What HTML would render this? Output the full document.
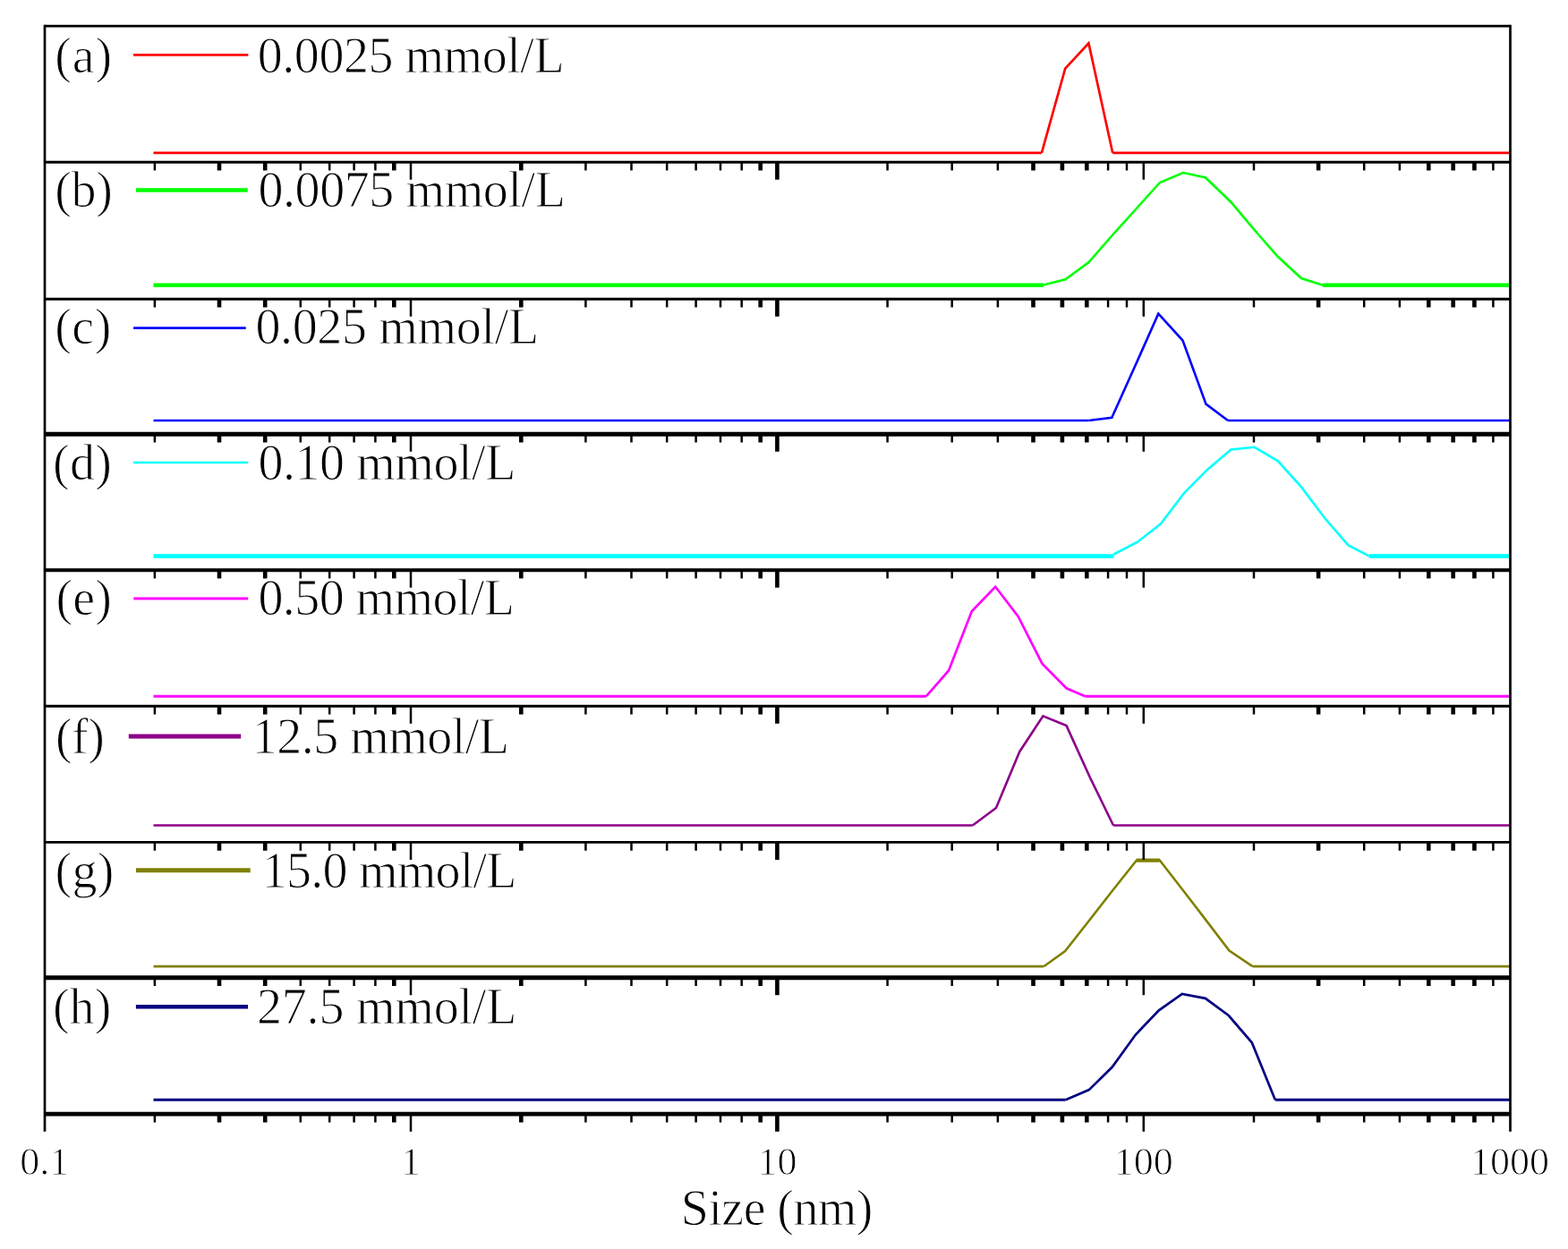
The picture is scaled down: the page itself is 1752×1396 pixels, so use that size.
<!DOCTYPE html>
<html><head><meta charset="utf-8"><style>html,body{margin:0;padding:0;background:#fff;}svg{display:block;}</style></head>
<body>
<svg width="1752" height="1396" viewBox="0 0 1752 1396">
<rect width="1752" height="1396" fill="#fff"/>
<line x1="171.5" y1="170.8" x2="1163.9" y2="170.8" stroke="#ff0000" stroke-width="2.8"/>
<line x1="1243.2" y1="170.8" x2="1687.5" y2="170.8" stroke="#ff0000" stroke-width="2.8"/>
<polyline points="1163.9,170.8 1190.2,76.6 1216.4,48.3 1243.2,170.8" fill="none" stroke="#ff0000" stroke-width="2.7" stroke-linejoin="miter" stroke-miterlimit="3"/>
<line x1="149" y1="61.3" x2="277.4" y2="61.3" stroke="#ff0000" stroke-width="2.8"/>
<line x1="171.5" y1="318.7" x2="1166" y2="318.7" stroke="#00ff00" stroke-width="4.6"/>
<line x1="1478" y1="318.7" x2="1687.5" y2="318.7" stroke="#00ff00" stroke-width="4.6"/>
<polyline points="1166.0,318.5 1190.4,312.2 1216.6,293.0 1242.8,263.0 1269.0,234.0 1296.0,204.0 1322.0,193.0 1347.0,198.5 1375.5,226.0 1401.6,257.0 1428.0,287.0 1454.0,311.0 1478.0,318.7" fill="none" stroke="#00ff00" stroke-width="2.6" stroke-linejoin="miter" stroke-miterlimit="3"/>
<line x1="152" y1="212.5" x2="276.7" y2="212.5" stroke="#00ff00" stroke-width="4.6"/>
<line x1="171.5" y1="470.0" x2="1216.5" y2="470.0" stroke="#0000ff" stroke-width="2.7"/>
<line x1="1372" y1="470.0" x2="1687.5" y2="470.0" stroke="#0000ff" stroke-width="2.7"/>
<polyline points="1216.5,470.0 1242.3,466.8 1268.3,409.0 1294.3,350.7 1321.5,380.5 1347.5,451.6 1372.0,470.0" fill="none" stroke="#0000ff" stroke-width="2.6" stroke-linejoin="miter" stroke-miterlimit="3"/>
<line x1="149.1" y1="366.7" x2="274.7" y2="366.7" stroke="#0000ff" stroke-width="2.8"/>
<line x1="171.5" y1="621.6" x2="1244.5" y2="621.6" stroke="#00ffff" stroke-width="4.6"/>
<line x1="1530" y1="621.6" x2="1687.5" y2="621.6" stroke="#00ffff" stroke-width="4.6"/>
<polyline points="1244.5,619.5 1270.7,606.0 1296.9,585.5 1323.1,551.0 1349.3,524.7 1375.5,502.4 1401.7,499.8 1427.9,515.3 1454.1,544.4 1480.3,579.3 1506.5,609.4 1530.0,621.6" fill="none" stroke="#00ffff" stroke-width="2.6" stroke-linejoin="miter" stroke-miterlimit="3"/>
<line x1="148.9" y1="517.0" x2="277.2" y2="517.0" stroke="#00ffff" stroke-width="2.6"/>
<line x1="171.5" y1="778.2" x2="1035" y2="778.2" stroke="#ff00ff" stroke-width="2.9"/>
<line x1="1212.5" y1="778.2" x2="1687.5" y2="778.2" stroke="#ff00ff" stroke-width="2.9"/>
<polyline points="1035.0,778.2 1060.0,749.5 1085.8,683.3 1112.2,655.7 1137.6,689.0 1164.4,741.7 1191.6,769.3 1212.5,778.2" fill="none" stroke="#ff00ff" stroke-width="2.7" stroke-linejoin="miter" stroke-miterlimit="3"/>
<line x1="149.3" y1="669.0" x2="277.2" y2="669.0" stroke="#ff00ff" stroke-width="2.9"/>
<line x1="171.5" y1="922.5" x2="1086.8" y2="922.5" stroke="#8c0088" stroke-width="2.5"/>
<line x1="1244" y1="922.5" x2="1687.5" y2="922.5" stroke="#8c0088" stroke-width="2.5"/>
<polyline points="1086.8,922.5 1113.0,903.0 1139.2,840.2 1165.4,800.3 1191.6,811.1 1217.8,868.8 1244.0,922.5" fill="none" stroke="#8c0088" stroke-width="2.6" stroke-linejoin="miter" stroke-miterlimit="3"/>
<line x1="143.8" y1="823.0" x2="269.2" y2="823.0" stroke="#8c0088" stroke-width="5.0"/>
<line x1="171.5" y1="1080.2" x2="1166.2" y2="1080.2" stroke="#808000" stroke-width="2.7"/>
<line x1="1399.6" y1="1080.2" x2="1687.5" y2="1080.2" stroke="#808000" stroke-width="2.7"/>
<polyline points="1166.2,1080.2 1190.1,1063.0 1216.5,1029.5 1243.0,995.5 1270.2,961.3 1295.6,961.3 1322.0,995.2 1348.0,1029.1 1373.5,1062.5 1399.6,1080.2" fill="none" stroke="#808000" stroke-width="2.6" stroke-linejoin="miter" stroke-miterlimit="3"/>
<line x1="152" y1="972.8" x2="279.7" y2="972.8" stroke="#808000" stroke-width="5.0"/>
<line x1="171.5" y1="1229.2" x2="1190.8" y2="1229.2" stroke="#000080" stroke-width="3.0"/>
<line x1="1424.8" y1="1229.2" x2="1687.5" y2="1229.2" stroke="#000080" stroke-width="3.0"/>
<polyline points="1190.8,1229.2 1216.8,1218.1 1242.8,1192.5 1268.8,1156.5 1294.8,1129.4 1320.8,1111.0 1346.8,1115.8 1372.8,1135.0 1398.8,1165.3 1424.8,1229.2" fill="none" stroke="#000080" stroke-width="2.7" stroke-linejoin="miter" stroke-miterlimit="3"/>
<line x1="151.9" y1="1125.3" x2="277" y2="1125.3" stroke="#000080" stroke-width="4.4"/>
<line x1="1270.2" y1="961.6" x2="1295.6" y2="961.6" stroke="#808000" stroke-width="4.2"/>
<line x1="50.0" y1="27.849999999999998" x2="50.0" y2="1264.7" stroke="#000" stroke-width="2.7"/>
<line x1="1687.5" y1="27.849999999999998" x2="1687.5" y2="1264.7" stroke="#000" stroke-width="2.7"/>
<line x1="50.0" y1="29.2" x2="1687.5" y2="29.2" stroke="#000" stroke-width="2.7"/>
<line x1="50.0" y1="181.3" x2="1687.5" y2="181.3" stroke="#000" stroke-width="2.9"/>
<line x1="50.0" y1="334.2" x2="1687.5" y2="334.2" stroke="#000" stroke-width="2.9"/>
<line x1="50.0" y1="485.3" x2="1687.5" y2="485.3" stroke="#000" stroke-width="5.0"/>
<line x1="50.0" y1="637.2" x2="1687.5" y2="637.2" stroke="#000" stroke-width="4.0"/>
<line x1="50.0" y1="789.2" x2="1687.5" y2="789.2" stroke="#000" stroke-width="3.0"/>
<line x1="50.0" y1="941.4" x2="1687.5" y2="941.4" stroke="#000" stroke-width="2.9"/>
<line x1="50.0" y1="1092.7" x2="1687.5" y2="1092.7" stroke="#000" stroke-width="5.1"/>
<line x1="50.0" y1="1245.2" x2="1687.5" y2="1245.2" stroke="#000" stroke-width="4.8"/>
<path d="M172.9 181.3V190.6M335.8 181.3V190.6M368.2 181.3V190.6M395.6 181.3V190.6M419.4 181.3V190.6M654.4 181.3V190.6M705.5 181.3V190.6M745.2 181.3V190.6M777.6 181.3V190.6M805.0 181.3V190.6M828.7 181.3V190.6M991.6 181.3V190.6M1063.7 181.3V190.6M1114.9 181.3V190.6M1238.1 181.3V190.6M1259.0 181.3V190.6M1401.0 181.3V190.6M1524.2 181.3V190.6M1563.9 181.3V190.6M1668.4 181.3V190.6M459.0 181.3V200.8M1277.8 181.3V200.8M172.9 334.2V343.5M335.8 334.2V343.5M368.2 334.2V343.5M395.6 334.2V343.5M419.4 334.2V343.5M654.4 334.2V343.5M705.5 334.2V343.5M745.2 334.2V343.5M777.6 334.2V343.5M805.0 334.2V343.5M828.7 334.2V343.5M991.6 334.2V343.5M1063.7 334.2V343.5M1114.9 334.2V343.5M1238.1 334.2V343.5M1259.0 334.2V343.5M1401.0 334.2V343.5M1524.2 334.2V343.5M1563.9 334.2V343.5M1668.4 334.2V343.5M459.0 334.2V353.7M1277.8 334.2V353.7M172.9 485.3V494.6M335.8 485.3V494.6M368.2 485.3V494.6M395.6 485.3V494.6M419.4 485.3V494.6M654.4 485.3V494.6M705.5 485.3V494.6M745.2 485.3V494.6M777.6 485.3V494.6M805.0 485.3V494.6M828.7 485.3V494.6M991.6 485.3V494.6M1063.7 485.3V494.6M1114.9 485.3V494.6M1238.1 485.3V494.6M1259.0 485.3V494.6M1401.0 485.3V494.6M1524.2 485.3V494.6M1563.9 485.3V494.6M1668.4 485.3V494.6M459.0 485.3V504.8M1277.8 485.3V504.8M172.9 637.2V646.5M335.8 637.2V646.5M368.2 637.2V646.5M395.6 637.2V646.5M419.4 637.2V646.5M654.4 637.2V646.5M705.5 637.2V646.5M745.2 637.2V646.5M777.6 637.2V646.5M805.0 637.2V646.5M828.7 637.2V646.5M991.6 637.2V646.5M1063.7 637.2V646.5M1114.9 637.2V646.5M1238.1 637.2V646.5M1259.0 637.2V646.5M1401.0 637.2V646.5M1524.2 637.2V646.5M1563.9 637.2V646.5M1668.4 637.2V646.5M459.0 637.2V656.7M1277.8 637.2V656.7M172.9 789.2V798.5M335.8 789.2V798.5M368.2 789.2V798.5M395.6 789.2V798.5M419.4 789.2V798.5M654.4 789.2V798.5M705.5 789.2V798.5M745.2 789.2V798.5M777.6 789.2V798.5M805.0 789.2V798.5M828.7 789.2V798.5M991.6 789.2V798.5M1063.7 789.2V798.5M1114.9 789.2V798.5M1238.1 789.2V798.5M1259.0 789.2V798.5M1401.0 789.2V798.5M1524.2 789.2V798.5M1563.9 789.2V798.5M1668.4 789.2V798.5M459.0 789.2V808.7M1277.8 789.2V808.7M172.9 941.4V950.7M335.8 941.4V950.7M368.2 941.4V950.7M395.6 941.4V950.7M419.4 941.4V950.7M654.4 941.4V950.7M705.5 941.4V950.7M745.2 941.4V950.7M777.6 941.4V950.7M805.0 941.4V950.7M828.7 941.4V950.7M991.6 941.4V950.7M1063.7 941.4V950.7M1114.9 941.4V950.7M1238.1 941.4V950.7M1259.0 941.4V950.7M1401.0 941.4V950.7M1524.2 941.4V950.7M1563.9 941.4V950.7M1668.4 941.4V950.7M459.0 941.4V960.9M1277.8 941.4V960.9M172.9 1092.7V1102.0M335.8 1092.7V1102.0M368.2 1092.7V1102.0M395.6 1092.7V1102.0M419.4 1092.7V1102.0M654.4 1092.7V1102.0M705.5 1092.7V1102.0M745.2 1092.7V1102.0M777.6 1092.7V1102.0M805.0 1092.7V1102.0M828.7 1092.7V1102.0M991.6 1092.7V1102.0M1063.7 1092.7V1102.0M1114.9 1092.7V1102.0M1238.1 1092.7V1102.0M1259.0 1092.7V1102.0M1401.0 1092.7V1102.0M1524.2 1092.7V1102.0M1563.9 1092.7V1102.0M1668.4 1092.7V1102.0M459.0 1092.7V1112.2M1277.8 1092.7V1112.2M172.9 1245.2V1254.5M335.8 1245.2V1254.5M368.2 1245.2V1254.5M395.6 1245.2V1254.5M419.4 1245.2V1254.5M654.4 1245.2V1254.5M705.5 1245.2V1254.5M745.2 1245.2V1254.5M777.6 1245.2V1254.5M805.0 1245.2V1254.5M828.7 1245.2V1254.5M991.6 1245.2V1254.5M1063.7 1245.2V1254.5M1114.9 1245.2V1254.5M1238.1 1245.2V1254.5M1259.0 1245.2V1254.5M1401.0 1245.2V1254.5M1524.2 1245.2V1254.5M1563.9 1245.2V1254.5M1668.4 1245.2V1254.5M459.0 1245.2V1264.7M1277.8 1245.2V1264.7" stroke="#000" stroke-width="2.5" fill="none"/>
<path d="M245.0 181.3V190.6M296.2 181.3V190.6M440.3 181.3V190.6M582.3 181.3V190.6M849.7 181.3V190.6M1154.5 181.3V190.6M1186.9 181.3V190.6M1214.3 181.3V190.6M1473.1 181.3V190.6M1596.3 181.3V190.6M1623.7 181.3V190.6M1647.4 181.3V190.6M868.4 181.3V200.8M245.0 334.2V343.5M296.2 334.2V343.5M440.3 334.2V343.5M582.3 334.2V343.5M849.7 334.2V343.5M1154.5 334.2V343.5M1186.9 334.2V343.5M1214.3 334.2V343.5M1473.1 334.2V343.5M1596.3 334.2V343.5M1623.7 334.2V343.5M1647.4 334.2V343.5M868.4 334.2V353.7M245.0 485.3V494.6M296.2 485.3V494.6M440.3 485.3V494.6M582.3 485.3V494.6M849.7 485.3V494.6M1154.5 485.3V494.6M1186.9 485.3V494.6M1214.3 485.3V494.6M1473.1 485.3V494.6M1596.3 485.3V494.6M1623.7 485.3V494.6M1647.4 485.3V494.6M868.4 485.3V504.8M245.0 637.2V646.5M296.2 637.2V646.5M440.3 637.2V646.5M582.3 637.2V646.5M849.7 637.2V646.5M1154.5 637.2V646.5M1186.9 637.2V646.5M1214.3 637.2V646.5M1473.1 637.2V646.5M1596.3 637.2V646.5M1623.7 637.2V646.5M1647.4 637.2V646.5M868.4 637.2V656.7M245.0 789.2V798.5M296.2 789.2V798.5M440.3 789.2V798.5M582.3 789.2V798.5M849.7 789.2V798.5M1154.5 789.2V798.5M1186.9 789.2V798.5M1214.3 789.2V798.5M1473.1 789.2V798.5M1596.3 789.2V798.5M1623.7 789.2V798.5M1647.4 789.2V798.5M868.4 789.2V808.7M245.0 941.4V950.7M296.2 941.4V950.7M440.3 941.4V950.7M582.3 941.4V950.7M849.7 941.4V950.7M1154.5 941.4V950.7M1186.9 941.4V950.7M1214.3 941.4V950.7M1473.1 941.4V950.7M1596.3 941.4V950.7M1623.7 941.4V950.7M1647.4 941.4V950.7M868.4 941.4V960.9M245.0 1092.7V1102.0M296.2 1092.7V1102.0M440.3 1092.7V1102.0M582.3 1092.7V1102.0M849.7 1092.7V1102.0M1154.5 1092.7V1102.0M1186.9 1092.7V1102.0M1214.3 1092.7V1102.0M1473.1 1092.7V1102.0M1596.3 1092.7V1102.0M1623.7 1092.7V1102.0M1647.4 1092.7V1102.0M868.4 1092.7V1112.2M245.0 1245.2V1254.5M296.2 1245.2V1254.5M440.3 1245.2V1254.5M582.3 1245.2V1254.5M849.7 1245.2V1254.5M1154.5 1245.2V1254.5M1186.9 1245.2V1254.5M1214.3 1245.2V1254.5M1473.1 1245.2V1254.5M1596.3 1245.2V1254.5M1623.7 1245.2V1254.5M1647.4 1245.2V1254.5M868.4 1245.2V1264.7" stroke="#000" stroke-width="4.6" fill="none"/>
<g font-family="Liberation Serif, Times New Roman, serif" fill="#000" stroke="#fff" stroke-width="1.0" stroke-linejoin="round">
<text x="61.2" y="80.8" font-size="56" textLength="64.0" lengthAdjust="spacing">(a)</text>
<text x="287.8" y="80.8" font-size="56" textLength="342.8" lengthAdjust="spacing">0.0025 mmol/L</text>
<text x="61.2" y="231.2" font-size="56" textLength="64.8" lengthAdjust="spacing">(b)</text>
<text x="288.4" y="231.2" font-size="56" textLength="343.5" lengthAdjust="spacing">0.0075 mmol/L</text>
<text x="61.2" y="383.6" font-size="56" textLength="63.2" lengthAdjust="spacing">(c)</text>
<text x="285.4" y="383.6" font-size="56" textLength="316.7" lengthAdjust="spacing">0.025 mmol/L</text>
<text x="59.0" y="535.7" font-size="56" textLength="65.8" lengthAdjust="spacing">(d)</text>
<text x="288.4" y="535.7" font-size="56" textLength="288.0" lengthAdjust="spacing">0.10 mmol/L</text>
<text x="62.6" y="687.4" font-size="56" textLength="62.3" lengthAdjust="spacing">(e)</text>
<text x="288.4" y="687.4" font-size="56" textLength="286.6" lengthAdjust="spacing">0.50 mmol/L</text>
<text x="61.9" y="841.6" font-size="56" textLength="54.9" lengthAdjust="spacing">(f)</text>
<text x="281.8" y="841.6" font-size="56" textLength="287.2" lengthAdjust="spacing">12.5 mmol/L</text>
<text x="61.6" y="991.7" font-size="56" textLength="65.8" lengthAdjust="spacing">(g)</text>
<text x="292.8" y="991.7" font-size="56" textLength="284.7" lengthAdjust="spacing">15.0 mmol/L</text>
<text x="58.9" y="1143.8" font-size="56" textLength="65.4" lengthAdjust="spacing">(h)</text>
<text x="287.0" y="1143.8" font-size="56" textLength="290.4" lengthAdjust="spacing">27.5 mmol/L</text>
<text x="49.7" y="1312.6" font-size="44" text-anchor="middle">0.1</text>
<text x="459.0" y="1312.6" font-size="44" text-anchor="middle">1</text>
<text x="868.4" y="1312.6" font-size="44" text-anchor="middle">10</text>
<text x="1277.8" y="1312.6" font-size="44" text-anchor="middle">100</text>
<text x="1687.1" y="1312.6" font-size="44" text-anchor="middle">1000</text>
<text x="760.8" y="1369.0" font-size="56" textLength="214.7" lengthAdjust="spacing">Size (nm)</text>
</g></svg>
</body></html>
